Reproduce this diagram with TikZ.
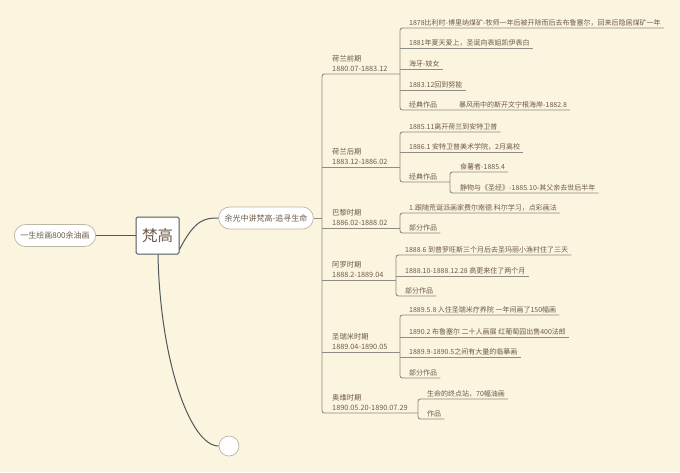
\documentclass[tikz,border=0pt]{standalone}
\usepackage{fontspec}
\setmainfont{Noto Sans CJK SC}
\definecolor{bg}{HTML}{FBF4DF}
\definecolor{txt}{HTML}{6E5B4A}
\definecolor{lc}{HTML}{8F8B85}
\definecolor{dk}{HTML}{50575D}
\definecolor{pb}{HTML}{BDB5A6}
\tikzset{
  item/.style={anchor=south west, inner xsep=0pt, inner ysep=1.8pt, font=\fontsize{7}{8.5}\selectfont, text=txt},
  per/.style={anchor=south west, align=left, inner xsep=0pt, inner ysep=1.8pt, font=\fontsize{7.3}{10}\selectfont, text=txt},
  ln/.style={draw=lc, line width=0.9pt, rounded corners=2.5pt},
  dkl/.style={draw=dk, line width=1pt},
  pill/.style={draw=pb, fill=white, line width=0.7pt, minimum height=22pt, inner xsep=6pt, rounded corners=11pt, font=\fontsize{8}{9}\selectfont, text=txt},
}
\begin{document}
\begin{tikzpicture}[x=1pt,y=-1pt]
\fill[bg] (0,0) rectangle (680,472);
\useasboundingbox (0,0) rectangle (680,472);

% central part
\node[draw=dk, fill=white, line width=1pt, rounded corners=1.5pt, minimum width=43pt, minimum height=37pt, inner sep=0pt, font=\fontsize{15.5}{17}\selectfont, text=txt] (fg) at (157.5,235.5) {梵高};
\node[pill, minimum width=80pt] (left) at (55,235.5) {一生绘画800余油画};
\node[pill, minimum width=94pt, minimum height=22pt] (yg) at (266,218) {余光中讲梵高-追寻生命};
\node[draw=pb, fill=white, line width=0.7pt, circle, minimum size=20pt, inner sep=0pt] (end) at (229,446) {};
\draw[dkl] (left.east) -- (fg.west);
\draw[dkl] ([yshift=-14pt]fg.east) .. controls (195,219) and (205,218) .. (yg.west);
\draw[dkl] ([xshift=0.5pt]fg.south) .. controls (160,360) and (190,446) .. (end.west);

% main bracket
\coordinate (m) at (322,218);
\draw[draw=lc, line width=0.9pt] (yg.east) -- (m);
\draw[ln] (400,74) -- (322,74) -- (322,413) -- (418,413);
\draw[ln] (322,167) -- (400,167);
\draw[ln] (322,228) -- (400,228);
\draw[ln] (322,280) -- (396,280);
\draw[ln] (322,352) -- (400,352);

% periods
\node[per] (p1) at (332,74) {荷兰前期\\1880.07-1883.12};
\node[per] (p2) at (332,167) {荷兰后期\\1883.12-1886.02};
\node[per] (p3) at (332,228) {巴黎时期\\1886.02-1888.02};
\node[per] (p4) at (332,280) {阿罗时期\\1888.2-1889.04};
\node[per] (p5) at (332,352) {圣瑞米时期\\1889.04-1890.05};
\node[per] (p6) at (332,413) {奥维时期\\1890.05.20-1890.07.29};

% group 1
\node[item] (a1) at (409,28) {1878比利时-博里纳煤矿-牧师一年后被开除而后去布鲁塞尔，回来后隐居煤矿一年};
\node[item] (a2) at (409,48) {1881年夏天爱上，圣诞向表姐凯伊表白};
\node[item] (a3) at (409,69) {海牙-妓女};
\node[item] (a4) at (409,90) {1883.12回到努能};
\node[item] (a5) at (409,110) {经典作品};
\node[item] (a6) at (459,110) {暴风雨中的斯开文宁根海岸-1882.8};
\draw[ln] ([xshift=3pt]a1.south east) -- (400,28) -- (400,110) -- ([xshift=3pt]a6.south east);
\draw[ln] (400,48) -- ([xshift=3pt]a2.south east);
\draw[ln] (400,69) -- ([xshift=3pt]a3.south east);
\draw[ln] (400,90) -- ([xshift=3pt]a4.south east);

% group 2
\node[item] (b1) at (409,132) {1885.11离开荷兰到安特卫普};
\node[item] (b2) at (409,152) {1886.1 安特卫普美术学院，2月离校};
\node[item] (b3) at (409,182) {经典作品};
\node[item] (b4) at (460,172) {食薯者-1885.4};
\node[item] (b5) at (460,193) {静物与《圣经》-1885.10-其父亲去世后半年};
\draw[ln] ([xshift=3pt]b1.south east) -- (400,132) -- (400,182) -- (450,182);
\draw[ln] (400,152) -- ([xshift=3pt]b2.south east);
\draw[ln] ([xshift=3pt]b4.south east) -- (450,172) -- (450,193) -- ([xshift=3pt]b5.south east);

% group 3
\node[item] (c1) at (409,213) {1.跟随荒诞派画家费尔南德.科尔学习，点彩画法};
\node[item] (c2) at (409,233) {部分作品};
\draw[ln] ([xshift=3pt]c1.south east) -- (400,213) -- (400,233) -- ([xshift=3pt]c2.south east);

% group 4
\node[item] (d1) at (405,255) {1888.6 到普罗旺斯三个月后去圣玛丽小渔村住了三天};
\node[item] (d2) at (405,276) {1888.10-1888.12.28 高更来住了两个月};
\node[item] (d3) at (405,296) {部分作品};
\draw[ln] ([xshift=3pt]d1.south east) -- (396,255) -- (396,296) -- ([xshift=3pt]d3.south east);
\draw[ln] (396,276) -- ([xshift=3pt]d2.south east);

% group 5
\node[item] (e1) at (409,315) {1889.5.8 入住圣瑞米疗养院 一年间画了150幅画};
\node[item] (e2) at (409,337) {1890.2 布鲁塞尔 二十人画展 红葡萄园出售400法郎};
\node[item] (e3) at (409,357) {1889.9-1890.5之间有大量的临摹画};
\node[item] (e4) at (409,378) {部分作品};
\draw[ln] ([xshift=3pt]e1.south east) -- (400,315) -- (400,378) -- ([xshift=3pt]e4.south east);
\draw[ln] (400,337) -- ([xshift=3pt]e2.south east);
\draw[ln] (400,357) -- ([xshift=3pt]e3.south east);

% group 6
\node[item] (f1) at (427,399) {生命的终点站，70幅油画};
\node[item] (f2) at (427,419) {作品};
\draw[ln] ([xshift=3pt]f1.south east) -- (418,399) -- (418,419) -- ([xshift=3pt]f2.south east);
\end{tikzpicture}
\end{document}
